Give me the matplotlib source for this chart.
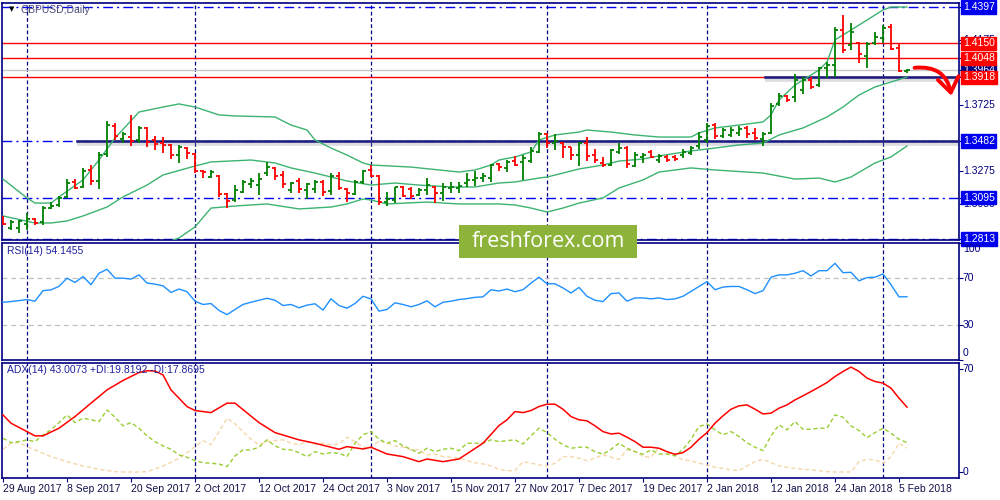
import numpy as np
import matplotlib
matplotlib.use("Agg")
import matplotlib.pyplot as plt
from matplotlib.transforms import blended_transform_factory
from matplotlib.patches import FancyArrowPatch, Rectangle

plt.rcParams['font.family'] = ['Liberation Sans', 'DejaVu Sans']

# GBPUSD daily bars, 29 Aug 2017 .. 6 Feb 2018
opens = [1.2963, 1.2888, 1.2888, 1.2915, 1.2949, 1.2929, 1.3024, 1.3045, 1.3100, 1.3202,
         1.3168, 1.3284, 1.3209, 1.3393, 1.3584, 1.3496, 1.3509, 1.3489, 1.3571, 1.3489,
         1.3468, 1.3455, 1.3386, 1.3434, 1.3393, 1.3277, 1.3236, 1.3243, 1.3120, 1.3079,
         1.3134, 1.3188, 1.3181, 1.3263, 1.3298, 1.3250, 1.3147, 1.3209, 1.3147, 1.3154,
         1.3202, 1.3141, 1.3243, 1.3154, 1.3120, 1.3202, 1.3284, 1.3243, 1.3065, 1.3079,
         1.3168, 1.3154, 1.3113, 1.3147, 1.3168, 1.3127, 1.3161, 1.3161, 1.3195, 1.3216,
         1.3229, 1.3229, 1.3325, 1.3298, 1.3345, 1.3339, 1.3345, 1.3407, 1.3530, 1.3468,
         1.3468, 1.3441, 1.3386, 1.3468, 1.3386, 1.3332, 1.3318, 1.3407, 1.3434, 1.3311,
         1.3373, 1.3407, 1.3352, 1.3373, 1.3373, 1.3386, 1.3400, 1.3448, 1.3489, 1.3591,
         1.3516, 1.3523, 1.3537, 1.3571, 1.3537, 1.3496, 1.3537, 1.3735, 1.3789, 1.3783,
         1.3830, 1.3899, 1.3864, 1.3981, 1.4001, 1.4240, 1.4138, 1.4151, 1.4063, 1.4151,
         1.4186, 1.4261, 1.4117, 1.3960]
highs = [1.2970, 1.2942, 1.2942, 1.2990, 1.2956, 1.3038, 1.3065, 1.3106, 1.3222, 1.3222,
         1.3298, 1.3318, 1.3407, 1.3619, 1.3605, 1.3543, 1.3660, 1.3584, 1.3578, 1.3516,
         1.3509, 1.3461, 1.3455, 1.3441, 1.3400, 1.3284, 1.3284, 1.3250, 1.3127, 1.3181,
         1.3216, 1.3229, 1.3263, 1.3339, 1.3304, 1.3277, 1.3202, 1.3229, 1.3195, 1.3216,
         1.3216, 1.3263, 1.3270, 1.3161, 1.3216, 1.3284, 1.3318, 1.3250, 1.3134, 1.3168,
         1.3175, 1.3168, 1.3161, 1.3229, 1.3175, 1.3195, 1.3202, 1.3202, 1.3263, 1.3277,
         1.3263, 1.3325, 1.3332, 1.3352, 1.3380, 1.3386, 1.3441, 1.3543, 1.3537, 1.3530,
         1.3475, 1.3441, 1.3475, 1.3509, 1.3427, 1.3373, 1.3427, 1.3468, 1.3448, 1.3407,
         1.3400, 1.3420, 1.3393, 1.3386, 1.3386, 1.3427, 1.3448, 1.3543, 1.3605, 1.3605,
         1.3571, 1.3578, 1.3584, 1.3584, 1.3571, 1.3543, 1.3742, 1.3810, 1.3796, 1.3940,
         1.3919, 1.3919, 1.3987, 1.4022, 1.4261, 1.4342, 1.4288, 1.4158, 1.4158, 1.4226,
         1.4274, 1.4281, 1.4151, 1.3974]
lows = [1.2908, 1.2874, 1.2854, 1.2874, 1.2908, 1.2908, 1.3018, 1.3031, 1.3093, 1.3154,
        1.3161, 1.3181, 1.3154, 1.3373, 1.3489, 1.3468, 1.3448, 1.3468, 1.3441, 1.3420,
        1.3400, 1.3359, 1.3332, 1.3359, 1.3263, 1.3229, 1.3229, 1.3100, 1.3024, 1.3065,
        1.3127, 1.3161, 1.3113, 1.3243, 1.3216, 1.3161, 1.3127, 1.3127, 1.3086, 1.3127,
        1.3106, 1.3113, 1.3147, 1.3065, 1.3113, 1.3188, 1.3236, 1.3045, 1.3038, 1.3058,
        1.3100, 1.3086, 1.3106, 1.3113, 1.3058, 1.3072, 1.3127, 1.3127, 1.3168, 1.3175,
        1.3202, 1.3202, 1.3277, 1.3270, 1.3311, 1.3216, 1.3332, 1.3400, 1.3434, 1.3420,
        1.3366, 1.3352, 1.3311, 1.3345, 1.3332, 1.3304, 1.3311, 1.3393, 1.3298, 1.3304,
        1.3332, 1.3366, 1.3332, 1.3339, 1.3345, 1.3366, 1.3386, 1.3427, 1.3468, 1.3496,
        1.3502, 1.3509, 1.3516, 1.3502, 1.3489, 1.3448, 1.3530, 1.3721, 1.3748, 1.3748,
        1.3803, 1.3837, 1.3851, 1.3912, 1.3919, 1.4083, 1.4103, 1.4015, 1.3981, 1.4138,
        1.4151, 1.4103, 1.3953, 1.3946]
closes = [1.2915, 1.2929, 1.2936, 1.2949, 1.2922, 1.3024, 1.3038, 1.3093, 1.3195, 1.3161,
          1.3277, 1.3209, 1.3386, 1.3591, 1.3516, 1.3530, 1.3482, 1.3571, 1.3475, 1.3461,
          1.3455, 1.3386, 1.3441, 1.3400, 1.3277, 1.3270, 1.3270, 1.3120, 1.3072, 1.3147,
          1.3202, 1.3209, 1.3222, 1.3304, 1.3243, 1.3188, 1.3195, 1.3154, 1.3188, 1.3202,
          1.3134, 1.3243, 1.3161, 1.3127, 1.3202, 1.3277, 1.3243, 1.3065, 1.3086, 1.3168,
          1.3106, 1.3106, 1.3147, 1.3181, 1.3127, 1.3168, 1.3168, 1.3175, 1.3216, 1.3229,
          1.3243, 1.3318, 1.3304, 1.3339, 1.3318, 1.3366, 1.3414, 1.3530, 1.3468, 1.3482,
          1.3441, 1.3386, 1.3468, 1.3380, 1.3352, 1.3318, 1.3420, 1.3434, 1.3325, 1.3386,
          1.3386, 1.3373, 1.3380, 1.3352, 1.3359, 1.3407, 1.3434, 1.3509, 1.3584, 1.3516,
          1.3557, 1.3557, 1.3564, 1.3530, 1.3502, 1.3530, 1.3721, 1.3789, 1.3762, 1.3899,
          1.3899, 1.3851, 1.3981, 1.4001, 1.4240, 1.4103, 1.4226, 1.4076, 1.4145, 1.4192,
          1.4254, 1.4110, 1.3960, 1.3964]

# Bollinger bands (bar index, price)
bb_up_idx = [0, 3, 4, 6, 7, 10, 12, 14, 17, 20, 22, 24, 27, 29, 34, 36, 38, 39, 41, 43, 45, 46,
             51, 57, 59, 61, 62, 64, 66, 67, 69, 72, 73, 76, 79, 82, 86, 87, 89, 92, 95, 96,
             97, 99, 102, 103, 104, 106, 108, 110, 111, 113]
bb_up = [1.3222, 1.3093, 1.3058, 1.3058, 1.3100, 1.3216, 1.3352, 1.3502, 1.3680, 1.3714,
         1.3735, 1.3714, 1.3660, 1.3653, 1.3646, 1.3591, 1.3557, 1.3489, 1.3434, 1.3386,
         1.3332, 1.3318, 1.3304, 1.3270, 1.3284, 1.3318, 1.3352, 1.3373, 1.3407, 1.3489,
         1.3523, 1.3543, 1.3557, 1.3543, 1.3523, 1.3509, 1.3509, 1.3537, 1.3571, 1.3591,
         1.3612, 1.3660, 1.3762, 1.3864, 1.3967, 1.4022, 1.4172, 1.4240, 1.4308, 1.4377,
         1.4397, 1.4397]
bb_mid_idx = [0, 4, 6, 8, 10, 13, 15, 18, 20, 24, 26, 31, 34, 36, 39, 41, 43, 46, 49, 52, 56,
              59, 62, 64, 67, 68, 70, 72, 75, 77, 80, 82, 86, 89, 92, 95, 97, 100, 103, 105,
              107, 109, 111, 113]
bb_mid = [1.2970, 1.2922, 1.2922, 1.2936, 1.2970, 1.3031, 1.3100, 1.3181, 1.3250, 1.3311,
          1.3339, 1.3352, 1.3332, 1.3298, 1.3263, 1.3236, 1.3209, 1.3181, 1.3195, 1.3181,
          1.3168, 1.3168, 1.3195, 1.3202, 1.3229, 1.3236, 1.3263, 1.3291, 1.3318, 1.3345,
          1.3359, 1.3380, 1.3414, 1.3434, 1.3455, 1.3468, 1.3523, 1.3571, 1.3646, 1.3714,
          1.3796, 1.3851, 1.3885, 1.3919]
bb_low_idx = [18, 22, 24, 26, 29, 33, 37, 41, 43, 45, 46, 48, 53, 57, 62, 64, 66, 68, 70, 72,
              75, 77, 80, 82, 83, 86, 89, 95, 99, 102, 104, 106, 109, 111, 113]
bb_low = [1.2740, 1.2820, 1.2895, 1.3024, 1.3038, 1.3052, 1.3018, 1.3031, 1.3052, 1.3086,
          1.3079, 1.3052, 1.3065, 1.3052, 1.3052, 1.3045, 1.3024, 1.2997, 1.3024, 1.3058,
          1.3093, 1.3161, 1.3216, 1.3270, 1.3277, 1.3298, 1.3284, 1.3263, 1.3222, 1.3229,
          1.3202, 1.3236, 1.3332, 1.3373, 1.3448]

rsi = [49.4, 50.0, 50.8, 51.7, 50.3, 59.3, 60.0, 63.0, 70.0, 66.3, 71.4, 64.4, 74.2, 77.6, 70.0,
       70.0, 69.2, 72.8, 65.8, 64.9, 63.5, 57.8, 60.7, 58.4, 50.3, 47.5, 48.3, 42.4, 38.8, 43.2,
       47.5, 49.4, 51.1, 52.8, 51.1, 46.6, 47.5, 44.7, 46.9, 48.1, 42.7, 52.3, 46.6, 44.3, 48.3,
       54.5, 52.3, 41.8, 43.2, 48.9, 47.5, 45.5, 47.5, 50.6, 45.5, 49.4, 50.3, 51.7, 52.5, 53.6,
       54.0, 60.1, 59.0, 60.7, 58.4, 60.1, 65.8, 70.8, 65.2, 65.2, 61.6, 57.3, 62.1, 54.5, 51.1,
       50.0, 56.8, 57.3, 50.3, 53.1, 53.1, 52.3, 53.1, 51.7, 52.3, 54.5, 58.7, 62.9, 67.1, 60.1,
       62.4, 62.9, 62.9, 60.1, 56.8, 59.3, 70.8, 72.8, 72.8, 74.2, 76.4, 71.9, 76.4, 76.4, 82.7,
       74.7, 75.0, 67.7, 70.5, 70.8, 73.6, 64.4, 54.0, 54.1]

adx_idx = [0, 1, 3, 4, 5, 7, 9, 11, 13, 15, 17, 18, 19, 20, 21, 23, 24, 26, 28, 29, 32, 34, 37,
           39, 42, 43, 45, 46, 48, 50, 52, 53, 55, 57, 60, 62, 63, 64, 65, 66, 67, 68, 69, 70,
           71, 72, 73, 74, 75, 76, 77, 78, 79, 80, 81, 82, 83, 84, 85, 86, 87, 88, 89, 90, 91,
           92, 93, 94, 95, 96, 97, 98, 99, 100, 101, 102, 103, 104, 105, 106, 107, 108, 109,
           110, 111, 112, 113]
adx = [38.7, 33.1, 27.4, 24.5, 24.5, 29.7, 37.6, 46.7, 55.7, 62.1, 67.5, 68.7, 68.5, 65.9, 55.7,
       44.4, 41.7, 40.3, 46.7, 46.7, 33.5, 26.7, 21.8, 19.5, 15.4, 17.2, 15.6, 16.8, 12.2, 10.4,
       7.0, 8.8, 7.0, 8.8, 19.5, 31.5, 35.4, 41.0, 40.3, 41.7, 44.4, 46.0, 46.0, 42.6, 37.6,
       35.4, 34.7, 31.3, 27.4, 25.8, 26.3, 23.6, 20.6, 16.8, 16.8, 16.1, 13.8, 12.0, 13.1, 16.8,
       22.2, 26.7, 33.1, 38.1, 42.6, 44.9, 45.5, 42.6, 39.4, 39.9, 43.3, 45.5, 48.9, 51.7, 54.6,
       57.6, 60.7, 64.8, 68.2, 71.2, 68.2, 63.7, 61.4, 60.3, 56.9, 50.1, 44.0]
plus_di = [22.9, 19.9, 20.6, 21.8, 20.6, 25.2, 28.6, 33.5, 38.7, 33.5, 36.5, 35.4, 34.2, 42.1,
           37.2, 31.3, 33.5, 29.7, 24.5, 20.6, 17.7, 15.4, 11.6, 10.0, 7.7, 6.3, 5.9, 5.4, 3.6,
           10.9, 15.0, 15.0, 16.8, 21.8, 17.7, 15.4, 15.0, 13.1, 10.4, 13.8, 12.2, 13.1, 12.7,
           10.4, 19.5, 25.2, 27.4, 22.2, 19.5, 21.3, 17.7, 15.4, 12.7, 16.1, 13.8, 15.4, 16.1,
           14.5, 19.5, 19.5, 19.5, 21.8, 20.6, 21.3, 21.8, 19.0, 24.5, 29.7, 26.7, 22.2, 18.4,
           16.1, 16.8, 16.8, 13.8, 12.0, 15.4, 19.5, 16.1, 13.8, 12.0, 15.0, 12.2, 12.2, 10.9,
           15.4, 22.2, 30.8, 32.6, 28.6, 25.2, 27.4, 24.0, 19.9, 16.8, 14.5, 24.5, 32.0, 28.6,
           34.2, 29.0, 29.0, 29.7, 29.7, 38.7, 37.2, 31.3, 28.1, 23.3, 26.7, 29.7, 26.3, 22.2,
           19.9]
minus_di = [15.4, 19.5, 19.9, 17.2, 15.0, 12.7, 10.4, 8.7, 7.0, 5.5, 4.1, 3.0, 1.8, 1.0, 0.2,
            0.0, 0.0, 0.0, 0.2, 2.0, 4.1, 6.5, 9.3, 13.1, 17.2, 21.3, 18.4, 27.4, 36.5, 32.6,
            27.4, 22.2, 18.4, 20.6, 21.3, 21.8, 19.5, 18.4, 20.6, 19.0, 19.5, 18.4, 19.0, 23.6,
            20.6, 16.8, 16.1, 21.3, 19.5, 17.7, 16.8, 15.0, 15.0, 11.6, 12.2, 10.4, 10.0, 9.3,
            7.7, 6.3, 5.4, 4.1, 1.8, 0.9, 0.9, 7.0, 5.9, 4.8, 4.1, 5.9, 10.4, 10.4, 9.3, 7.7,
            9.3, 11.6, 10.0, 8.6, 15.0, 13.8, 10.4, 10.0, 16.8, 12.7, 11.1, 8.2, 7.7, 5.9, 4.8,
            3.2, 2.5, 1.4, 0.9, 4.1, 7.0, 8.6, 6.3, 4.1, 3.2, 2.5, 1.8, 1.4, 0.9, 0.2, 0.0, 0.0,
            0.0, 7.0, 8.6, 8.2, 5.9, 10.4, 19.5, 16.1]

date_ticks = [0, 8, 16, 24, 32, 40, 48, 56, 64, 72, 80, 88, 96, 104, 112]
date_labels = ['29 Aug 2017', '8 Sep 2017', '20 Sep 2017', '2 Oct 2017', '12 Oct 2017',
               '24 Oct 2017', '3 Nov 2017', '15 Nov 2017', '27 Nov 2017', '7 Dec 2017',
               '19 Dec 2017', '2 Jan 2018', '12 Jan 2018', '24 Jan 2018', '5 Feb 2018']
month_seps = [3, 24, 46, 68, 88, 110]

red_levels = [1.4150, 1.4048, 1.3918]
blue_levels = [1.4397, 1.3482, 1.3095, 1.2813]
last_price = 1.3964
support = [(1.3482, 9.25), (1.3918, 95.25)]
price_ticks = [1.4175, 1.3725, 1.3275, 1.3050]

NAVY = '#000080'
BLUE = '#0000ee'
RED = '#ff0000'
GREEN = '#008000'
BAND = '#3cb371'
FS = 7.5

fig = plt.figure(figsize=(10, 5), dpi=100)
ax1 = fig.add_axes([0.002, 0.52, 0.957, 0.474])
ax2 = fig.add_axes([0.002, 0.28, 0.957, 0.235])
ax3 = fig.add_axes([0.002, 0.044, 0.957, 0.231])

xmin, xmax = -0.125, 119.5
for ax in (ax1, ax2, ax3):
    ax.set_xlim(xmin, xmax)
    for s in ax.spines.values():
        s.set_color(NAVY)
        s.set_linewidth(1.2)
    ax.tick_params(left=False, labelleft=False, bottom=False, labelbottom=False,
                   right=True, labelright=False, direction='out', length=3,
                   color=NAVY, width=0.8)
    for m in month_seps:
        ax.axvline(m, color=NAVY, lw=0.9, ls=(0, (3, 2)), zorder=1)

ax1.set_ylim(1.28058, 1.44245)
ax2.set_ylim(0.5, 100.5)
ax3.set_ylim(-4.1, 74.3)

# ---- price panel ----
for lv in blue_levels:
    ax1.axhline(lv, color=BLUE, lw=1.0, ls=(0, (7, 3, 1.5, 3)), zorder=2)
for lv in red_levels:
    ax1.axhline(lv, color=RED, lw=1.0, zorder=2)
ax1.axhline(last_price, color='#c8c8c8', lw=1.0, zorder=1.5)
for lv, start in support:
    ax1.plot([start, xmax], [lv - 0.0012, lv - 0.0012], color='#9a9aa8', lw=4, alpha=0.35,
             solid_capstyle='butt', zorder=2.5)
    ax1.plot([start, xmax], [lv, lv], color='#1a1a80', lw=1.8, zorder=3)

ax1.plot(bb_up_idx, bb_up, color=BAND, lw=1.0, zorder=3)
ax1.plot(bb_mid_idx, bb_mid, color=BAND, lw=1.0, zorder=3)
ax1.plot(bb_low_idx, bb_low, color=BAND, lw=1.0, zorder=3)

o = np.array(opens)
c = np.array(closes)
xb = np.arange(len(o))
cols = np.where(c >= o, GREEN, RED)
ax1.vlines(xb, lows, highs, colors=cols, lw=1.3, zorder=4)
ax1.hlines(o, xb - 0.4, xb, colors=cols, lw=1.3, zorder=4)
ax1.hlines(c, xb, xb + 0.4, colors=cols, lw=1.3, zorder=4)

arrow = FancyArrowPatch((113.6, 1.3980), (118.6, 1.3772), connectionstyle='arc3,rad=-0.5',
                        arrowstyle='->,head_length=0.7,head_width=0.5', mutation_scale=15,
                        color=RED, lw=2.8, clip_on=False, zorder=6)
ax1.add_patch(arrow)

ax1.text(0.007, 0.972, '▼', transform=ax1.transAxes, fontsize=5, color='black', va='center',
         family='DejaVu Sans')
ax1.text(0.019, 0.972, 'GBPUSD,Daily', transform=ax1.transAxes, fontsize=FS, color='#4a4a7a',
         va='center')

tr1 = blended_transform_factory(ax1.transAxes, ax1.transData)
ax1.set_yticks(price_ticks + blue_levels + red_levels + [last_price])
for p in price_ticks:
    ax1.text(1.004, p, f'{p:.4f}', transform=tr1, fontsize=FS, color=NAVY, va='center',
             ha='left', clip_on=False)


def box_label(ax, tr, p, fc):
    ax.text(1.004, p, f'{p:.4f}', transform=tr, fontsize=FS, color='white', va='center',
            ha='left', clip_on=False,
            bbox=dict(boxstyle='square,pad=0.15', fc=fc, ec=fc))


box_label(ax1, tr1, last_price, NAVY)
for lv in blue_levels:
    box_label(ax1, tr1, lv, BLUE)
for lv in red_levels:
    box_label(ax1, tr1, lv, RED)

# ---- RSI panel ----
for lv in (70, 30):
    ax2.axhline(lv, color='#c0c0c0', lw=0.9, ls=(0, (4, 3)), zorder=1)
ax2.plot(xb, rsi, color='#1e90ff', lw=1.0, zorder=3)
ax2.text(0.005, 0.928, 'RSI(14) 54.1455', transform=ax2.transAxes, fontsize=FS,
         color='#2020a0', va='center')
tr2 = blended_transform_factory(ax2.transAxes, ax2.transData)
ax2.set_yticks([100, 70, 30, 0])
ax2.text(1.004, 99.5, '100', transform=tr2, fontsize=FS, color=NAVY, va='top', clip_on=False)
ax2.text(1.004, 70, '70', transform=tr2, fontsize=FS, color=NAVY, va='center', clip_on=False)
ax2.text(1.004, 30, '30', transform=tr2, fontsize=FS, color=NAVY, va='center', clip_on=False)
ax2.text(1.004, 1.5, '0', transform=tr2, fontsize=FS, color=NAVY, va='bottom', clip_on=False)

# ---- ADX panel ----
ax3.plot(xb, minus_di, color='#f5d7a8', lw=1.0, ls=(0, (3, 2)), zorder=2)
ax3.plot(xb, plus_di, color='#9acd32', lw=1.0, ls=(0, (3, 2)), zorder=2)
ax3.plot(adx_idx, adx, color=RED, lw=1.1, zorder=3)
ax3.text(0.005, 0.935, 'ADX(14) 43.0073 +DI:19.8192 -DI:17.8695', transform=ax3.transAxes,
         fontsize=FS, color='#2020a0', va='center')
tr3 = blended_transform_factory(ax3.transAxes, ax3.transData)
ax3.set_yticks([70, 0])
ax3.text(1.004, 70, '70', transform=tr3, fontsize=FS, color=NAVY, va='center', clip_on=False)
ax3.text(1.004, 0, '0', transform=tr3, fontsize=FS, color=NAVY, va='center', clip_on=False)

ax3.tick_params(bottom=True, labelbottom=True, length=3, color=NAVY, pad=1.5)
ax3.set_xticks(date_ticks)
ax3.set_xticklabels(date_labels, fontsize=FS, color='#10104a')
for lab in ax3.get_xticklabels():
    lab.set_horizontalalignment('left')

# watermark
fig.add_artist(Rectangle((0.459, 0.485), 0.178, 0.066, transform=fig.transFigure,
                         fc='#8db33a', ec='none', zorder=10))
fig.text(0.548, 0.517, 'freshforex.com', color='white', fontsize=15.5, ha='center',
         va='center', zorder=11, family='Open Sans')

fig.savefig('out.png', dpi=100)
